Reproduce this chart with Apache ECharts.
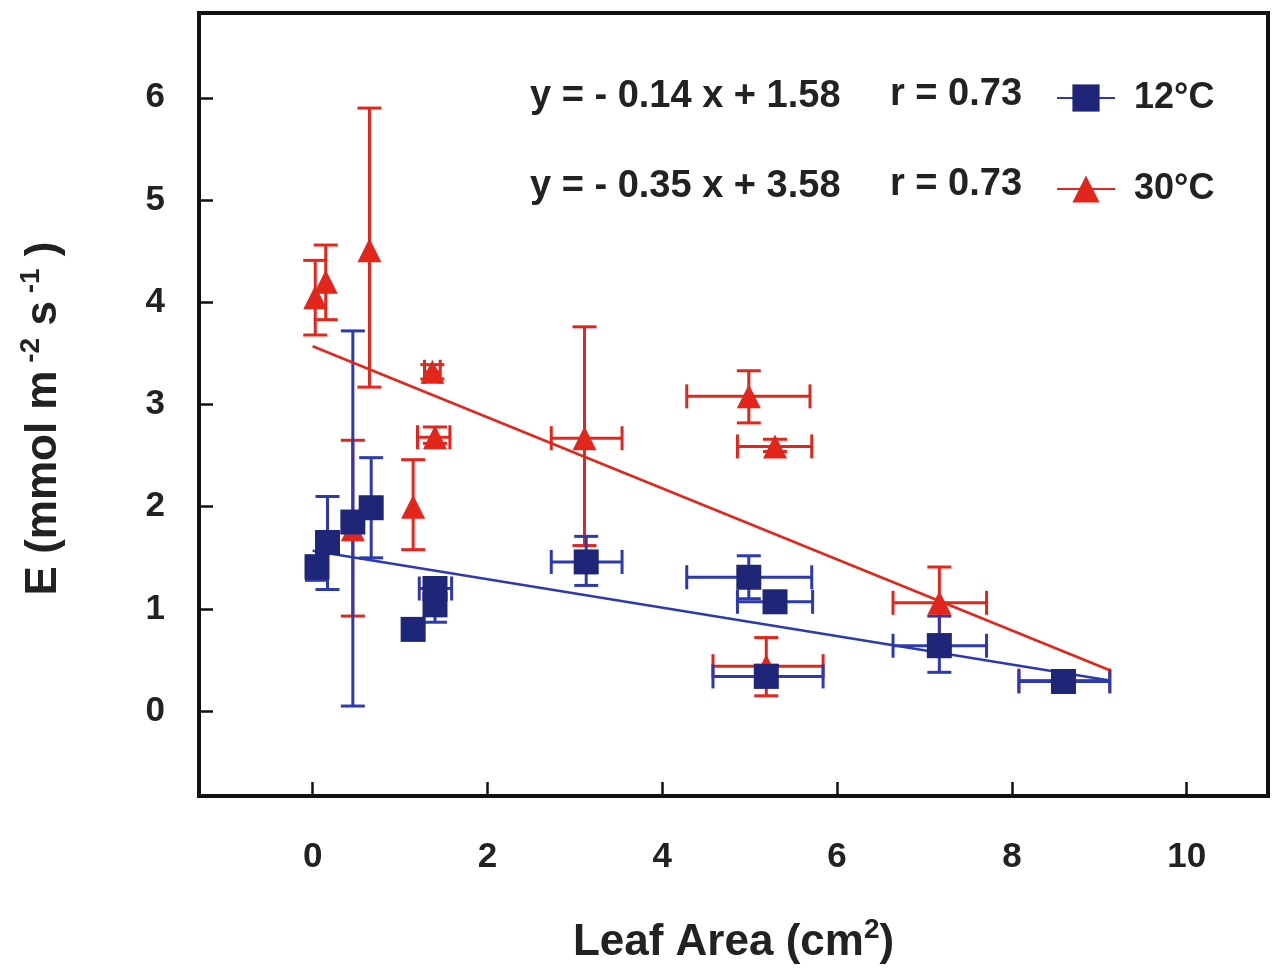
<!DOCTYPE html>
<html>
<head>
<meta charset="utf-8">
<script src="https://cdn.jsdelivr.net/npm/echarts@6/dist/echarts.min.js"></script>
<style>
  html, body { margin: 0; padding: 0; background: #fff; }
  #chart { width: 1275px; height: 970px; }
</style>
</head>
<body>
<div id="chart"></div>
<script>
// tick labels
const xTicks = [0, 2, 4, 6, 8, 10];
const yTicks = [0, 1, 2, 3, 4, 5, 6];

// 12°C (squares): leaf area, E, and error bounds
const coldX    = [0.05, 0.17, 0.46, 0.67, 1.15, 1.40, 1.40, 3.13, 4.99, 5.29, 5.19, 7.17, 8.59];
const coldY    = [1.41, 1.65, 1.85, 1.99, 0.80, 1.20, 1.04, 1.46, 1.31, 1.07, 0.34, 0.64, 0.29];
const coldXLo  = [0.05, 0.17, 0.46, 0.67, 1.15, 1.22, 1.40, 2.73, 4.28, 4.86, 4.58, 6.64, 8.08];
const coldXHi  = [0.05, 0.17, 0.46, 0.67, 1.15, 1.59, 1.40, 3.54, 5.71, 5.72, 5.84, 7.71, 9.12];
const coldYLo  = [1.28, 1.19, 0.05, 1.50, 0.75, 1.10, 0.87, 1.23, 1.10, 1.00, 0.25, 0.38, 0.22];
const coldYHi  = [1.52, 2.10, 3.72, 2.48, 0.85, 1.30, 1.20, 1.71, 1.52, 1.15, 0.45, 0.93, 0.36];

// 30°C (triangles)
const warmX    = [0.03, 0.15, 0.46, 0.65, 1.15, 1.37, 1.40, 3.11, 4.99, 5.29, 5.19, 7.17, 8.59];
const warmY    = [4.05, 4.20, 1.78, 4.51, 2.00, 3.32, 2.68, 2.67, 3.08, 2.59, 0.44, 1.06, 0.30];
const warmXLo  = [0.03, 0.15, 0.46, 0.65, 1.15, 1.28, 1.20, 2.73, 4.28, 4.86, 4.58, 6.64, 8.08];
const warmXHi  = [0.03, 0.15, 0.46, 0.65, 1.15, 1.46, 1.57, 3.54, 5.69, 5.71, 5.84, 7.71, 9.12];
const warmYLo  = [3.68, 3.83, 0.93, 3.17, 1.58, 3.25, 2.62, 1.62, 2.82, 2.54, 0.15, 0.75, 0.25];
const warmYHi  = [4.41, 4.56, 2.65, 5.90, 2.46, 3.39, 2.78, 3.76, 3.33, 2.66, 0.72, 1.41, 0.35];

// regression line end points
const coldFitX = [0, 9.12];
const coldFitY = [1.57, 0.30];
const warmFitX = [0, 9.12];
const warmFitY = [3.57, 0.40];

const BLUE = "#1f2677";
const BLUE_LINE = "#2d3aae";
const RED = "#e2261c";
const INK = "#222";
const FONT = "Liberation Sans";

const zip = (...cols) => cols[0].map((_, i) => cols.map(c => c[i]));

function errorBars(color) {
    return function (params, api) {
        const x = api.value(0), y = api.value(1);
        const xlo = api.value(2), xhi = api.value(3);
        const ylo = api.value(4), yhi = api.value(5);
        const cap = 12;
        const style = { stroke: color, lineWidth: 3, fill: null };
        const kids = [];
        if (yhi > ylo) {
            const a = api.coord([x, ylo]), b = api.coord([x, yhi]);
            kids.push({ type: "line", shape: { x1: a[0], y1: a[1], x2: b[0], y2: b[1] }, style });
            kids.push({ type: "line", shape: { x1: a[0] - cap, y1: a[1], x2: a[0] + cap, y2: a[1] }, style });
            kids.push({ type: "line", shape: { x1: b[0] - cap, y1: b[1], x2: b[0] + cap, y2: b[1] }, style });
        }
        if (xhi > xlo) {
            const a = api.coord([xlo, y]), b = api.coord([xhi, y]);
            kids.push({ type: "line", shape: { x1: a[0], y1: a[1], x2: b[0], y2: b[1] }, style });
            kids.push({ type: "line", shape: { x1: a[0], y1: a[1] - cap, x2: a[0], y2: a[1] + cap }, style });
            kids.push({ type: "line", shape: { x1: b[0], y1: b[1] - cap, x2: b[0], y2: b[1] + cap }, style });
        }
        return { type: "group", children: kids };
    };
}

const titleRich = {
    t: { fontSize: 44, fontWeight: "bold", color: INK, fontFamily: FONT },
    s: { fontSize: 28, fontWeight: "bold", color: INK, fontFamily: FONT, padding: [0, 0, 26, 0] }
};
const eqFont = `bold 38px "${FONT}"`;

const chart = echarts.init(document.getElementById("chart"));

chart.setOption({
    animation: false,
    textStyle: { fontFamily: FONT },
    grid: {
        left: 199, right: 7, top: 13, bottom: 173,
        show: true, borderColor: "#111", borderWidth: 4, backgroundColor: "transparent"
    },
    xAxis: {
        type: "value", min: -1.3, max: 10.93,
        splitLine: { show: false },
        axisLine: { show: false, onZero: false },
        axisTick: { inside: true, length: 14, customValues: xTicks, lineStyle: { color: "#111", width: 2.5 } },
        axisLabel: { customValues: xTicks, margin: 44, fontSize: 35, fontWeight: "bold", color: INK, fontFamily: FONT },
        name: "{t|Leaf Area (cm}{s|2}{t|)}",
        nameLocation: "middle",
        nameGap: 120,
        nameTextStyle: { rich: titleRich }
    },
    yAxis: {
        type: "value", min: -0.83, max: 6.83,
        splitLine: { show: false },
        axisLine: { show: false, onZero: false },
        axisTick: { inside: true, length: 14, customValues: yTicks, lineStyle: { color: "#111", width: 2.5 } },
        axisLabel: { customValues: yTicks, margin: 34, fontSize: 35, fontWeight: "bold", color: INK, fontFamily: FONT },
        name: "{t|E (mmol m}{s| -2}{t| s}{s| -1}{t| )}",
        nameLocation: "middle",
        nameRotate: 90,
        nameGap: 128,
        nameTextStyle: { rich: titleRich, padding: [0, 28, 0, 0] }
    },
    legend: {
        orient: "vertical",
        left: 1051, top: 75,
        itemWidth: 58, itemHeight: 34, itemGap: 55,
        textStyle: { fontSize: 36, fontWeight: "bold", color: INK, fontFamily: FONT, padding: [0, 0, 0, 14] },
        data: ["12°C", "30°C"]
    },
    graphic: [
        { type: "text", left: 530, top: 78, style: { text: "y = - 0.14 x + 1.58", font: eqFont, fill: INK } },
        { type: "text", left: 890, top: 76, style: { text: "r = 0.73", font: eqFont, fill: INK } },
        { type: "text", left: 530, top: 168, style: { text: "y = - 0.35 x + 3.58", font: eqFont, fill: INK } },
        { type: "text", left: 890, top: 166, style: { text: "r = 0.73", font: eqFont, fill: INK } }
    ],
    series: [
        {
            type: "custom", name: "warmErr", renderItem: errorBars(RED),
            data: zip(warmX, warmY, warmXLo, warmXHi, warmYLo, warmYHi),
            encode: { x: 0, y: 1 }, z: 2
        },
        {
            type: "custom", name: "coldErr", renderItem: errorBars(BLUE_LINE),
            data: zip(coldX, coldY, coldXLo, coldXHi, coldYLo, coldYHi),
            encode: { x: 0, y: 1 }, z: 3
        },
        {
            type: "line", name: "30°C", data: zip(warmFitX, warmFitY),
            symbol: "triangle", symbolSize: 24, showSymbol: false,
            itemStyle: { color: RED }, lineStyle: { color: RED, width: 2.5 }, z: 4
        },
        {
            type: "line", name: "12°C", data: zip(coldFitX, coldFitY),
            symbol: "rect", symbolSize: 24, showSymbol: false,
            itemStyle: { color: BLUE }, lineStyle: { color: BLUE_LINE, width: 2.5 }, z: 4
        },
        {
            type: "scatter", name: "30°C pts", data: zip(warmX, warmY),
            symbol: "triangle", symbolSize: 24, itemStyle: { color: RED, opacity: 1 }, z: 5
        },
        {
            type: "scatter", name: "12°C pts", data: zip(coldX, coldY),
            symbol: "rect", symbolSize: 25, itemStyle: { color: BLUE, opacity: 1 }, z: 6
        }
    ]
});
</script>
</body>
</html>
